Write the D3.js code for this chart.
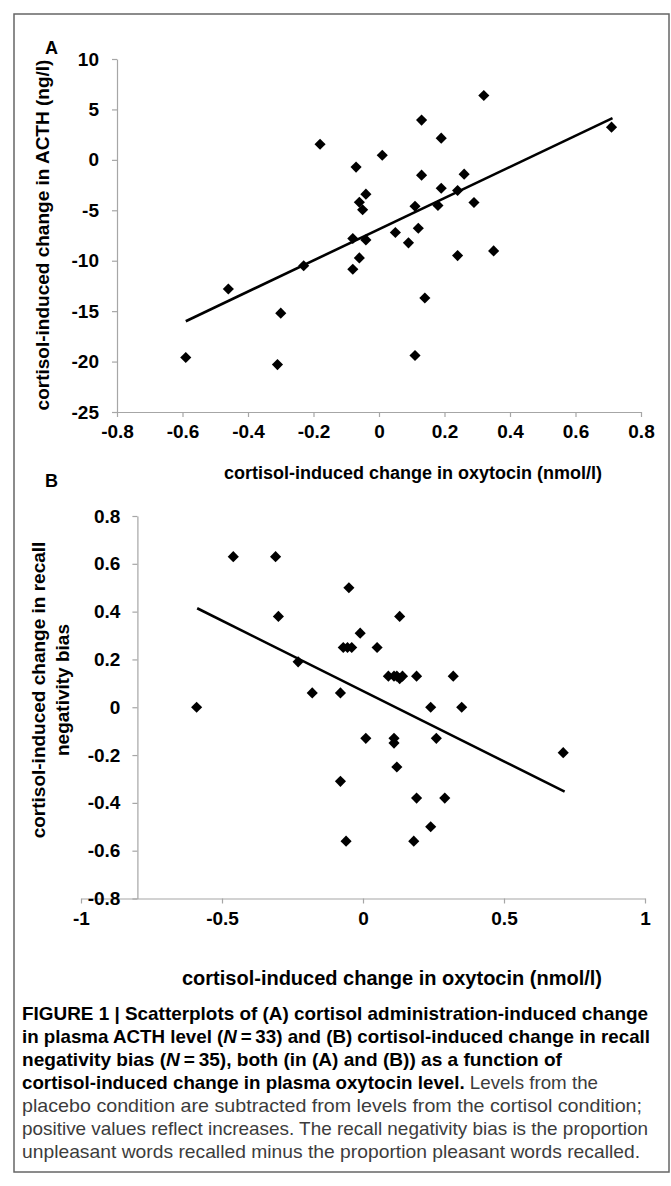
<!DOCTYPE html>
<html>
<head>
<meta charset="utf-8">
<script src="https://cdn.jsdelivr.net/npm/d3@7"></script>
<style>
  body { margin: 0; background: #fff; }
  svg text { font-family: "Liberation Sans", Arial, sans-serif; }
</style>
</head>
<body>
<div id="fig"></div>
<script>
// panel A: oxytocin change vs ACTH change (N = 33)
var oxyA  = [-0.59, -0.46, -0.31, -0.30, -0.23, -0.18, -0.08, -0.08, -0.07, -0.06, -0.06,
             -0.05, -0.04, -0.04, 0.01, 0.05, 0.09, 0.11, 0.11, 0.12, 0.13, 0.13, 0.14,
             0.18, 0.19, 0.19, 0.24, 0.24, 0.26, 0.29, 0.32, 0.35, 0.71];
var acth  = [-19.6, -12.8, -20.3, -15.2, -10.5, 1.55, -7.8, -10.85, -0.72, -4.2, -9.72,
             -4.95, -3.4, -7.94, 0.46, -7.2, -8.23, -4.6, -19.4, -6.78, 3.94, -1.52, -13.7,
             -4.53, 2.15, -2.81, -3.04, -9.49, -1.42, -4.23, 6.38, -9.03, 3.24];
var trendA = [[-0.59, -16.0], [0.713, 4.14]];
var xTicksA = [-0.8, -0.6, -0.4, -0.2, 0, 0.2, 0.4, 0.6, 0.8];
var yTicksA = [-25, -20, -15, -10, -5, 0, 5, 10];

// panel B: oxytocin change vs recall negativity bias (N = 35)
var oxyB  = [-0.59, -0.46, -0.31, -0.30, -0.23, -0.18, -0.08, -0.08, -0.06, -0.05, -0.07,
             -0.055, -0.04, -0.01, 0.01, 0.05, 0.09, 0.11, 0.12, 0.13, 0.14, 0.13, 0.11,
             0.11, 0.12, 0.19, 0.18, 0.19, 0.24, 0.24, 0.26, 0.29, 0.32, 0.35, 0.71];
var bias  = [0, 0.63, 0.63, 0.38, 0.19, 0.06, 0.06, -0.31, -0.56, 0.50, 0.25,
             0.25, 0.25, 0.31, -0.13, 0.25, 0.13, 0.13, 0.13, 0.12, 0.13, 0.38, -0.13,
             -0.15, -0.25, 0.13, -0.56, -0.38, 0, -0.50, -0.13, -0.38, 0.13, 0, -0.19];
var trendB = [[-0.588, 0.414], [0.715, -0.353]];
var xTicksB = [-1, -0.5, 0, 0.5, 1];
var yTicksB = [-0.8, -0.6, -0.4, -0.2, 0, 0.2, 0.4, 0.6, 0.8];

var caption = [
  [["FIGURE 1 | Scatterplots of (A) cortisol administration-induced change", "b"]],
  [["in plasma ACTH level (", "b"], ["N", "bi"], ["\u2009=\u200933) and (B) cortisol-induced change in recall", "b"]],
  [["negativity bias (", "b"], ["N", "bi"], ["\u2009=\u200935), both (in (A) and (B)) as a function of", "b"]],
  [["cortisol-induced change in plasma oxytocin level.", "b"], [" Levels from the", "r"]],
  [["placebo condition are subtracted from levels from the cortisol condition;", "r"]],
  [["positive values reflect increases. The recall negativity bias is the proportion", "r"]],
  [["unpleasant words recalled minus the proportion pleasant words recalled.", "r"]]
];
var captionWidth = [626, 628, 540, 576, 620, 626, 618];

var W = 671, H = 1186;
var svg = d3.select("#fig").append("svg")
    .attr("width", W).attr("height", H);

// frame
svg.append("rect")
    .attr("x", 14).attr("y", 14).attr("width", 655).attr("height", 1158)
    .attr("fill", "none").attr("stroke", "#666").attr("stroke-width", 1.5);

var diamond = d3.symbol().type(d3.symbolSquare).size(62);
var fmt = function(d) { return String(d); };

function styleAxis(g, fs) {
    g.select(".domain").attr("stroke", "#a6a6a6").attr("stroke-width", 1.2);
    g.selectAll(".tick line").attr("stroke", "#a6a6a6").attr("stroke-width", 1.2);
    g.selectAll(".tick text")
        .attr("fill", "#000")
        .style("font-size", fs + "px")
        .style("font-weight", "bold")
        .style("font-family", "'Liberation Sans', Arial, sans-serif");
}

function panel(o) {
    var x = o.x, y = o.y;
    var gx = svg.append("g")
        .attr("transform", "translate(0," + o.xAxisAt + ")")
        .call(d3.axisBottom(x).tickValues(o.xTicks).tickFormat(fmt)
            .tickSize(5).tickSizeOuter(0).tickPadding(8));
    styleAxis(gx, o.fs);

    var gy = svg.append("g")
        .attr("transform", "translate(" + o.yAxisAt + ",0)")
        .call(d3.axisLeft(y).tickValues(o.yTicks).tickFormat(fmt)
            .tickSize(5).tickSizeOuter(0).tickPadding(o.ypad));
    styleAxis(gy, o.fs);

    svg.append("line")
        .attr("x1", x(o.trend[0][0])).attr("y1", y(o.trend[0][1]))
        .attr("x2", x(o.trend[1][0])).attr("y2", y(o.trend[1][1]))
        .attr("stroke", "#000").attr("stroke-width", 2.6);

    svg.append("g").selectAll("path")
        .data(o.xs)
        .enter()
        .append("path")
            .attr("d", diamond)
            .attr("fill", "#000")
            .attr("transform", function(d, i) {
                return "translate(" + x(d) + "," + y(o.ys[i]) + ") rotate(45)";
            });
}

var xA = d3.scaleLinear([-0.8, 0.8], [117, 641]);
var yA = d3.scaleLinear([-25, 10], [412, 59]);
panel({x: xA, y: yA, xs: oxyA, ys: acth, trend: trendA, xTicks: xTicksA, yTicks: yTicksA,
       xAxisAt: yA(-25), yAxisAt: xA(-0.8), fs: 19, ypad: 13});

var xB = d3.scaleLinear([-1, 1], [81, 645]);
var yB = d3.scaleLinear([-0.8, 0.8], [898.5, 516]);
panel({x: xB, y: yB, xs: oxyB, ys: bias, trend: trendB, xTicks: xTicksB, yTicks: yTicksB,
       xAxisAt: yB(-0.8), yAxisAt: xB(-0.8), fs: 19, ypad: 12});

// titles
function label(txt, x, y, fs, rot) {
    return svg.append("text")
        .attr("transform", "translate(" + x + "," + y + ")" + (rot ? " rotate(-90)" : ""))
        .attr("text-anchor", "middle")
        .style("font-size", fs + "px").style("font-weight", "bold")
        .text(txt);
}
label("A", 53, 54, 18, false).attr("text-anchor", "start").attr("x", -8);
label("B", 50, 487, 18, false).attr("text-anchor", "start").attr("x", -5);
label("cortisol-induced change in oxytocin (nmol/l)", 413, 479, 18, false);
label("cortisol-induced change in ACTH (ng/l)", 49, 235, 19, true);
label("cortisol-induced change in oxytocin (nmol/l)", 392, 985, 20, false);
label("cortisol-induced change in recall", 45, 690, 19, true);
label("negativity bias", 69, 690, 19, true);

// caption
var cap = svg.append("g");
caption.forEach(function(line, i) {
    var t = cap.append("text")
        .attr("x", 22).attr("y", 1020 + i * 23)
        .attr("textLength", captionWidth[i])
        .attr("lengthAdjust", "spacingAndGlyphs")
        .style("font-size", "19px");
    line.forEach(function(seg) {
        t.append("tspan")
            .text(seg[0])
            .attr("fill", seg[1] == "r" ? "#3c3c3c" : "#000")
            .style("font-weight", seg[1] == "r" ? "normal" : "bold")
            .style("font-style", seg[1] == "bi" ? "italic" : "normal");
    });
});
</script>
</body>
</html>
